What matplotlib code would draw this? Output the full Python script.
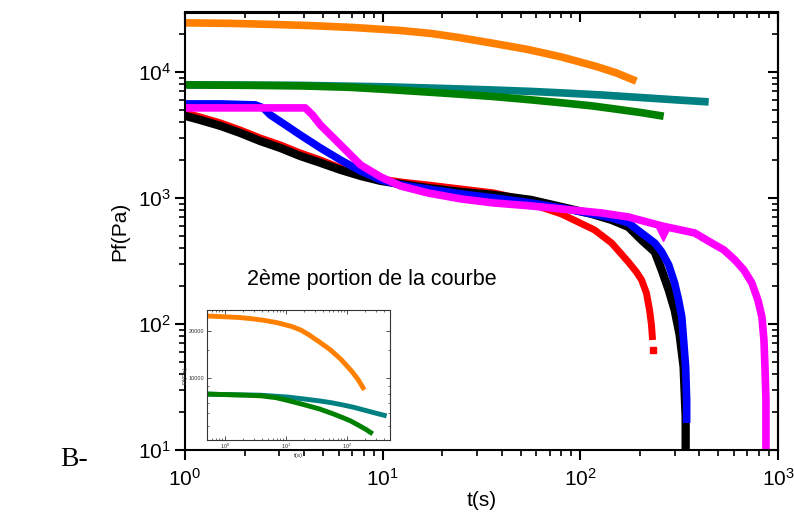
import matplotlib
matplotlib.use("Agg")
import matplotlib.pyplot as plt
from matplotlib.ticker import LogLocator, FixedLocator, NullFormatter, FixedFormatter

plt.rcParams['font.family'] = ['Liberation Sans', 'DejaVu Sans']
plt.rcParams['mathtext.fontset'] = 'custom'
plt.rcParams['mathtext.rm'] = 'Liberation Sans'

# ---- data ----
t_orange = [0.5, 1, 1.69, 2.70, 4.31, 7.13, 12.3, 17.5, 24.0, 35.3, 53.8, 80.1, 120, 152, 192]
p_orange = [24800, 24500, 24270, 23840, 23300, 22500, 21300, 20200, 18800, 16980, 15100, 13150, 11060, 9820, 8450]

t_teal = [0.5, 1, 3.83, 10.7, 19.7, 35.7, 56.4, 81.1, 128, 181, 290, 446]
p_teal = [7950, 7890, 7820, 7610, 7400, 7190, 7000, 6810, 6560, 6330, 6030, 5780]

t_green = [0.5, 1, 2.14, 3.83, 6.88, 10.7, 19.7, 35.7, 56.4, 81.1, 114, 147, 204, 264]
p_green = [7950, 7890, 7820, 7750, 7540, 7240, 6810, 6390, 6000, 5680, 5380, 5100, 4750, 4450]

t_red = [1, 1.19, 1.51, 1.90, 2.40, 3.04, 3.83, 4.84, 6.12, 7.73, 9.77, 12.3, 16.9, 24.9, 36.6,
         47.3, 58.4, 80.1, 118, 144, 175, 192, 204, 216, 224, 229, 232]
p_red = [4730, 4395, 3940, 3465, 2995, 2635, 2275, 2003, 1730, 1550, 1416, 1340, 1268, 1178, 1096,
         1000, 880, 747, 557, 439, 310, 259, 224, 176, 129, 98.2, 74.6]
t_red_end = [232]
p_red_end = [62.2]

t_black = [1, 1.19, 1.51, 1.90, 2.40, 3.04, 3.83, 4.84, 6.12, 7.73, 9.77, 12.3, 16.9, 24.9, 36.6,
           56.4, 80.1, 114, 144, 175, 204, 238, 258, 280, 300, 318, 333, 341, 341]
p_black = [4480, 4160, 3730, 3280, 2830, 2490, 2150, 1900, 1670, 1495, 1365, 1291, 1200, 1116, 1056,
           964, 849, 747, 669, 589, 464, 373, 268, 186, 129, 81.8, 45.6, 18.3, 9]

t_blue = [1, 1.51, 2.27, 2.49, 2.70, 3.22, 3.83, 4.84, 6.12, 7.73, 9.77, 12.3, 16.9, 24.9, 36.6,
          56.4, 80.1, 114, 144, 175, 204, 238, 258, 280, 300, 314, 326, 333, 341, 345, 345]
p_blue = [5570, 5570, 5470, 5180, 4560, 3795, 3160, 2494, 2000, 1638, 1390, 1268, 1178, 1076, 1000,
          912, 834, 747, 694, 634, 527, 439, 373, 294, 211, 155, 114, 74.6, 45.6, 25, 16.4]

t_magenta = [1, 4.06, 4.41, 4.84, 6.12, 7.73, 9.77, 12.3, 16.9, 24.9, 36.6, 56.4, 80.1, 128, 175,
             258, 379, 462, 532, 605, 672, 738, 791, 829, 849, 859, 869, 869]
p_magenta = [5180, 5180, 4560, 3795, 2635, 1828, 1468, 1245, 1096, 982, 912, 864, 818, 760, 706,
             600, 527, 439, 387, 322, 268, 211, 155, 114, 74.6, 45.6, 25, 9]
t_magenta_spike = [262]
p_magenta_spike = [520]

c_orange = '#ff8000'
c_teal = '#008080'
c_green = '#008000'
c_red = '#ff0000'
c_black = '#000000'
c_blue = '#0000ff'
c_magenta = '#ff00ff'

fig = plt.figure(figsize=(7.94, 5.15), dpi=100)
ax = fig.add_axes([185/794, 65/515, 593/794, 437.5/515])
ax.set_xscale('log')
ax.set_yscale('log')

lw = 5.5
kw = dict(solid_capstyle='butt', solid_joinstyle='round')
ax.plot(t_orange, p_orange, color=c_orange, lw=lw, **kw)
ax.plot(t_teal, p_teal, color=c_teal, lw=lw, **kw)
ax.plot(t_green, p_green, color=c_green, lw=lw, **kw)
ax.plot(t_red, p_red, color=c_red, lw=5, **kw)
ax.plot(t_red_end, p_red_end, 's', color=c_red, ms=5)
ax.plot(t_black, p_black, color=c_black, lw=6, **kw)
ax.plot(t_blue, p_blue, color=c_blue, lw=lw, **kw)
ax.plot(t_magenta, p_magenta, color=c_magenta, lw=lw, **kw)
ax.plot(t_magenta_spike, p_magenta_spike, 'v', color=c_magenta, ms=10)

ax.set_xlim(1, 1000)
ax.set_ylim(10, 29600)

for s in ax.spines.values():
    s.set_linewidth(1.5)

ax.tick_params(which='major', direction='out', length=7, width=1.5, labelsize=15)
ax.tick_params(axis='x', which='major', pad=6)
ax.tick_params(axis='y', which='major', pad=3)
ax.tick_params(which='minor', direction='out', length=4, width=1.2)
ax.xaxis.set_minor_locator(LogLocator(base=10, subs=range(2, 10)))
ax.yaxis.set_minor_locator(LogLocator(base=10, subs=range(2, 10)))

secx = ax.secondary_xaxis('top')
secx.tick_params(which='major', direction='in', length=7, width=1.5, labeltop=False)
secx.tick_params(which='minor', direction='in', length=4, width=1.2)
secx.xaxis.set_minor_locator(LogLocator(base=10, subs=range(2, 10)))
secx.xaxis.set_major_formatter(NullFormatter())
secx.xaxis.set_minor_formatter(NullFormatter())
secy = ax.secondary_yaxis('right')
secy.tick_params(which='major', direction='in', length=7, width=1.5, labelright=False)
secy.tick_params(which='minor', direction='in', length=4, width=1.2)
secy.yaxis.set_minor_locator(LogLocator(base=10, subs=range(2, 10)))
secy.yaxis.set_major_formatter(NullFormatter())
secy.yaxis.set_minor_formatter(NullFormatter())
for s in list(secx.spines.values()) + list(secy.spines.values()):
    s.set_linewidth(1.5)

ax.set_xlabel('t(s)', fontsize=15, labelpad=1)
ax.set_ylabel('Pf(Pa)', fontsize=15, labelpad=6)

fig.text(247/794, 1 - 280/515, '2ème portion de la courbe', fontsize=15.5,
         ha='left', va='center')
fig.text(60/794, 1 - 459/515, 'B-', fontsize=20, ha='left', va='center',
         family=['Liberation Serif', 'DejaVu Serif'])

# ---- inset ----
ins = fig.add_axes([206.7/794, 1 - 440/515, (390 - 206.7)/794, 130/515])
ins.set_xscale('log')
ins.set_yscale('log')
ins.plot(t_orange, p_orange, color=c_orange, lw=3.5, **kw)
ins.plot(t_teal, p_teal, color=c_teal, lw=3.5, **kw)
ins.plot(t_green, p_green, color=c_green, lw=3.5, **kw)
ins.set_xlim(0.5, 507)
ins.set_ylim(4070, 27060)
for s in ins.spines.values():
    s.set_linewidth(0.8)
    s.set_color('#333333')
ins.yaxis.set_major_locator(FixedLocator([10000, 20000]))
ins.yaxis.set_major_formatter(FixedFormatter(['10000', '20000']))
ins.yaxis.set_minor_locator(FixedLocator([5000, 6000, 7000, 8000, 9000, 15000]))
ins.yaxis.set_minor_formatter(NullFormatter())
ins.xaxis.set_minor_locator(LogLocator(base=10, subs=range(2, 10)))
ins.xaxis.set_minor_formatter(NullFormatter())
ins.tick_params(which='both', direction='in', top=True, right=True,
                labelsize=4, pad=1.5, colors='#333333')
ins.tick_params(which='major', length=3, width=0.6)
ins.tick_params(which='minor', length=1.5, width=0.5)
ins.set_xlabel('t(s)', fontsize=4.5, labelpad=1, color='#333333')
ins.set_ylabel('Pf(Pa)', fontsize=4.5, labelpad=1, color='#333333')

fig.savefig('out.png', dpi=100)
